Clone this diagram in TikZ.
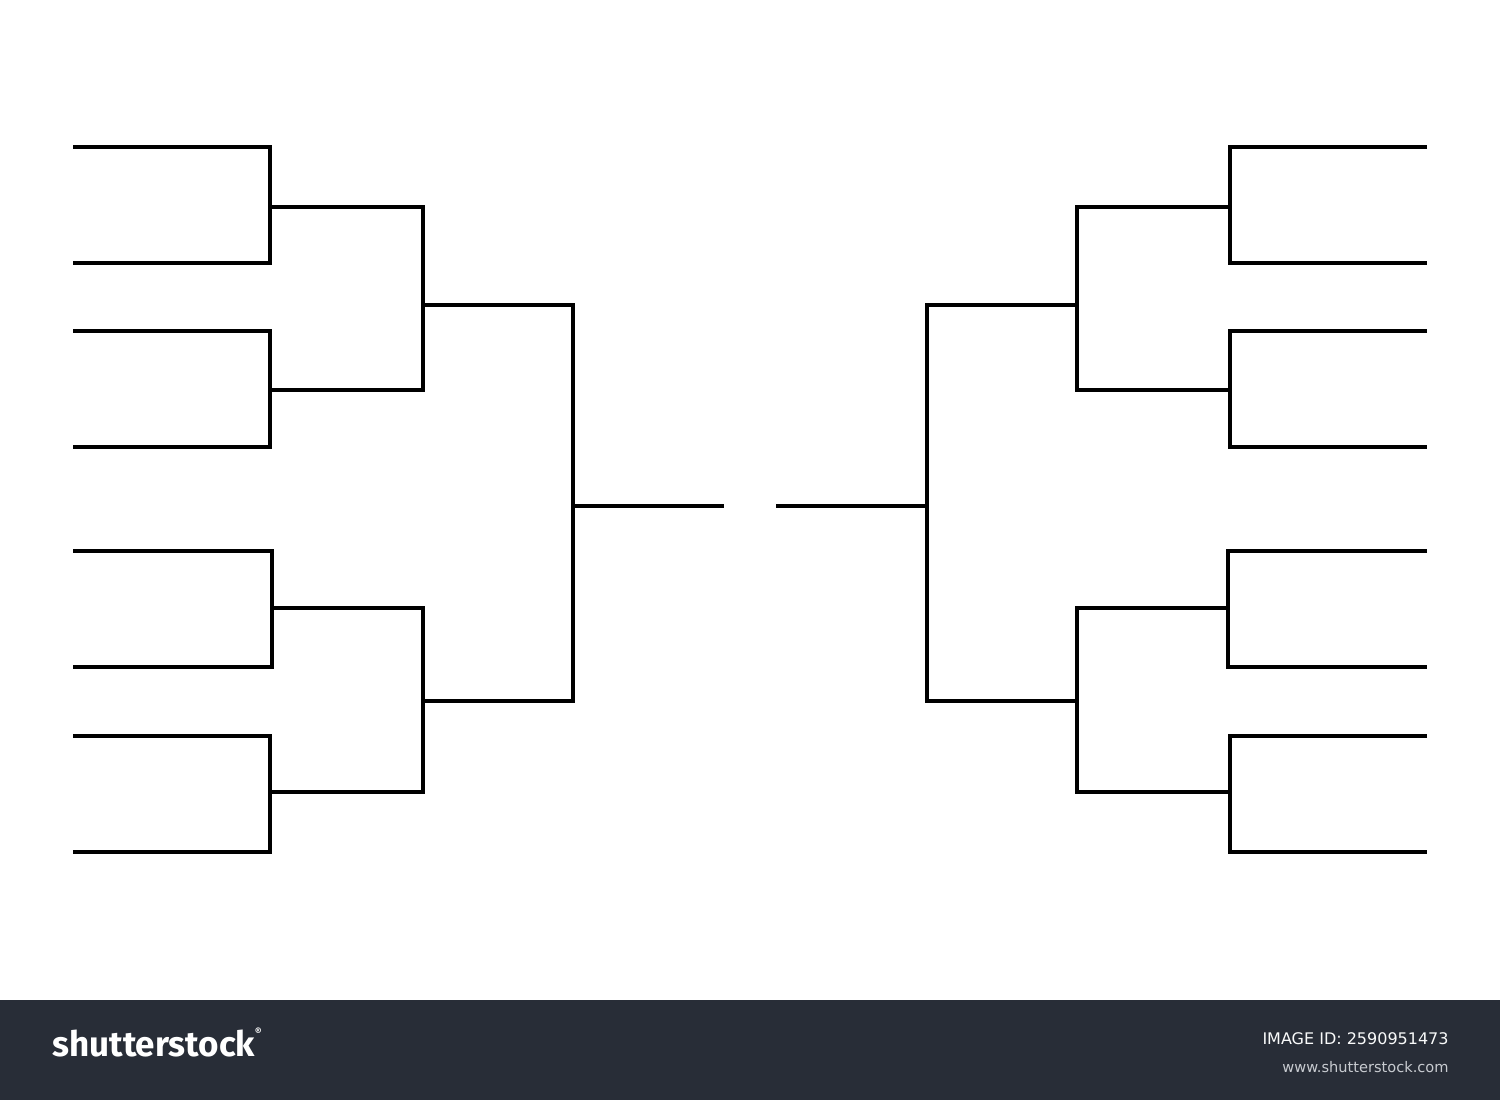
\documentclass[tikz,border=0pt]{standalone}
\usepackage{fontspec}
\setmainfont{DejaVu Sans}
\newfontfamily\logofont{Fira Sans}
\definecolor{barbg}{HTML}{282D37}
\definecolor{idgrey}{HTML}{C8CBD0}
\tikzset{
  bracket/.style={line width=1.8pt, black, line join=miter},
  logotext/.style={anchor=west, text=white, inner sep=0pt, font=\logofont\bfseries\fontsize{17.5}{17.5}\selectfont},
  idtext/.style={anchor=east, inner sep=0pt, text=idgrey}
}
\begin{document}
\begin{tikzpicture}[x=0.5pt, y=-0.5pt]
\useasboundingbox (0,0) rectangle (1500,1100);
\fill[white] (0,0) rectangle (1500,1000);
\fill[barbg] (0,1000) rectangle (1500,1100);

% left round 1
\foreach \a/\b/\r in {147/263/270, 331/447/270, 551/667/272, 736/852/270}{
  \draw[bracket] (73,\a) -- (\r,\a) -- (\r,\b) -- (73,\b);
}
% left round 2
\draw[bracket] (270,207) -- (423,207) -- (423,390) -- (270,390);
\draw[bracket] (272,608) -- (423,608) -- (423,792) -- (270,792);
% left round 3
\draw[bracket] (423,305) -- (573,305) -- (573,701) -- (423,701);
% left final
\draw[bracket] (573,506) -- (724,506);

% right round 1
\foreach \a/\b/\r in {147/263/1230, 331/447/1230, 551/667/1228, 736/852/1230}{
  \draw[bracket] (1427,\a) -- (\r,\a) -- (\r,\b) -- (1427,\b);
}
% right round 2
\draw[bracket] (1230,207) -- (1077,207) -- (1077,390) -- (1230,390);
\draw[bracket] (1228,608) -- (1077,608) -- (1077,792) -- (1230,792);
% right round 3
\draw[bracket] (1077,305) -- (927,305) -- (927,701) -- (1077,701);
% right final
\draw[bracket] (927,506) -- (776,506);

% bottom bar
\node[logotext] (logo) at (52,1042) {shutterstock\raisebox{0.6em}{\fontsize{5}{5}\selectfont\textregistered}};
\node[idtext, text=white!90!idgrey, font=\fontsize{8}{8}\selectfont] (imgid) at (1449,1039) {IMAGE ID: 2590951473};
\node[idtext, font=\fontsize{7.3}{8}\selectfont] (www) at (1449,1067) {www.shutterstock.com};
\end{tikzpicture}
\end{document}
